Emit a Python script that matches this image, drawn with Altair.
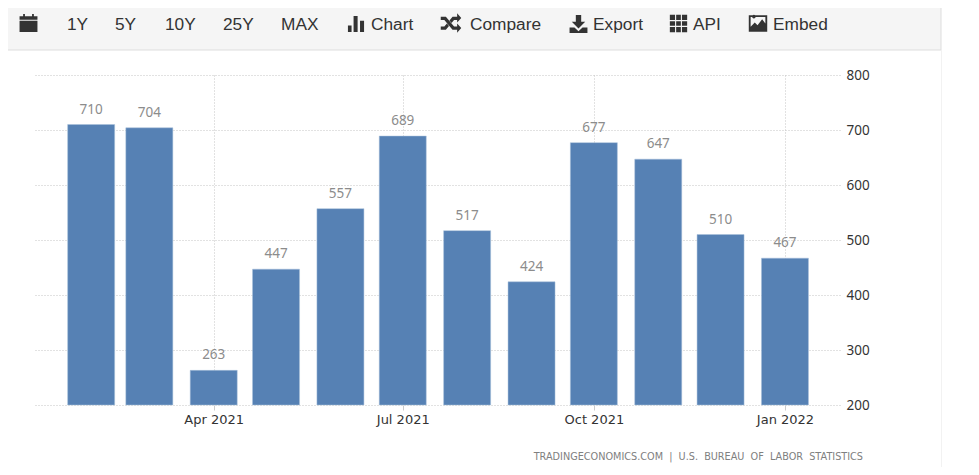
import altair as alt
import pandas as pd

months = ["2021-02-01", "2021-03-01", "2021-04-01", "2021-05-01", "2021-06-01", "2021-07-01",
          "2021-08-01", "2021-09-01", "2021-10-01", "2021-11-01", "2021-12-01", "2022-01-01"]
values = [710, 704, 263, 447, 557, 689, 517, 424, 677, 647, 510, 467]
y_ticks = [200, 300, 400, 500, 600, 700, 800]
source_note = "TRADINGECONOMICS.COM\u00a0 |\u00a0 U.S.\u00a0 BUREAU\u00a0 OF\u00a0 LABOR\u00a0 STATISTICS"

df = pd.DataFrame({"date": months, "value": values})

INK = "#333333"
X0, Y0 = 33, 75  # page position of the plot area's corner


def dt(y, m, d, h=0):
    return alt.DateTime(year=y, month=m, date=d, hours=h, utc=True)


x_enc = alt.X(
    "date:T",
    scale=alt.Scale(type="utc", nice=False, padding=0, domain=[dt(2021, 1, 4), dt(2022, 1, 27, 12)]),
    axis=alt.Axis(
        values=[dt(2021, 4, 1), dt(2021, 7, 1), dt(2021, 10, 1), dt(2022, 1, 1)],
        labelExpr="utcFormat(datum.value, '%b %Y')", title=None, domain=False,
        grid=True, gridColor="#c4c4c4", gridDash=[1, 2],
        tickColor="#cccccc", tickSize=5, labelColor=INK, labelFont="DejaVu Sans",
        labelFontSize=13, labelPadding=3, labelAngle=0,
    ),
)
y_enc = alt.Y(
    "value:Q",
    scale=alt.Scale(domain=[200, 800], nice=False, zero=False),
    axis=alt.Axis(
        values=y_ticks, orient="right", title=None, domain=False, ticks=False,
        grid=True, gridColor="#c4c4c4", gridDash=[1, 2],
        labelColor=INK, labelFont="Noto Sans", labelFontSize=13.5, labelPadding=6,
    ),
)

bars = alt.Chart(df).mark_bar(size=47, color="#5681b4", stroke="#a9c0da", strokeWidth=0.5).encode(
    x=x_enc, y=y_enc, y2=alt.datum(200))
labels = alt.Chart(df).mark_text(
    baseline="bottom", dy=-8, font="Noto Sans", fontSize=13.5, color="#8c8c8c"
).encode(x=x_enc, y=y_enc, text="value:Q")


def page_rect(x1, y1, x2, y2, **kw):
    return alt.Chart().mark_rect(**kw).encode(
        x=alt.value(x1 - X0), x2=alt.value(x2 - X0), y=alt.value(y1 - Y0), y2=alt.value(y2 - Y0))


def tool_text(label, x):
    return alt.Chart().mark_text(
        text=label, align="left", baseline="middle", font="Liberation Sans", fontSize=17.3, color=INK
    ).encode(x=alt.value(x - X0), y=alt.value(25 - Y0))


def icon(path, cx, cy, size):
    return alt.Chart().mark_point(
        shape=path, size=size, filled=True, fill=INK, opacity=1, strokeWidth=0
    ).encode(x=alt.value(cx - X0), y=alt.value(cy - Y0))


CALENDAR = ("M-1 -0.75 H-0.6 V-1 H-0.4 V-0.75 H0.4 V-1 H0.6 V-0.75 H1 V-0.35 H-1 Z "
            "M-1 -0.25 H1 V1 H-1 Z")
BARS = "M-1 0.2 H-0.55 V1 H-1 Z M-0.3 -1 H0.2 V1 H-0.3 Z M0.5 -0.4 H1 V1 H0.5 Z"
SHUFFLE = ("M-1 -0.6 H-0.5 L0.3 0.35 H0.6 V0.05 L1 0.5 L0.6 0.95 V0.65 H0.15 L-0.65 -0.3 H-1 Z "
           "M-1 0.35 H-0.65 L-0.4 0.05 L-0.2 0.3 L-0.5 0.65 H-1 Z "
           "M0.15 -0.6 H0.6 V-0.95 L1 -0.5 L0.6 -0.05 V-0.3 H0.3 L0.05 0 L-0.15 -0.25 Z")
DOWNLOAD = ("M-0.3 -1 H0.3 V-0.25 H0.75 L0 0.5 L-0.75 -0.25 H-0.3 Z "
            "M-1 0.4 H-0.45 L0 0.8 L0.45 0.4 H1 V1 H-1 Z")
GRID = ("M-1 -1 H-0.4 V-0.4 H-1 Z M-0.27 -1 H0.27 V-0.4 H-0.27 Z M0.4 -1 H1 V-0.4 H0.4 Z "
        "M-1 -0.27 H-0.4 V0.27 H-1 Z M-0.27 -0.27 H0.27 V0.27 H-0.27 Z M0.4 -0.27 H1 V0.27 H0.4 Z "
        "M-1 0.4 H-0.4 V1 H-1 Z M-0.27 0.4 H0.27 V1 H-0.27 Z M0.4 0.4 H1 V1 H0.4 Z")
IMAGE = ("M-1 -0.9 H1 V0.9 H-1 Z M-0.8 -0.7 V0.35 L-0.35 -0.1 L-0.05 0.2 L0.45 -0.45 L0.8 0 V-0.7 Z "
         "M-0.45 -0.55 A0.2 0.2 0 1 1 -0.44 -0.55 Z")

chart = alt.layer(
    page_rect(6, 0, 941, 50, color="#f5f5f5", stroke="#dddddd", strokeWidth=1),
    page_rect(941, 50, 942, 475, color="#f2f2f2"),
    tool_text("1Y", 67), tool_text("5Y", 115), tool_text("10Y", 165), tool_text("25Y", 223),
    tool_text("MAX", 281), tool_text("Chart", 371), tool_text("Compare", 470),
    tool_text("Export", 593), tool_text("API", 693), tool_text("Embed", 773),
    icon(CALENDAR, 28.5, 23, 320), icon(BARS, 356, 24, 260), icon(SHUFFLE, 451, 23, 420),
    icon(DOWNLOAD, 578.5, 24, 320), icon(GRID, 678.5, 23.5, 300), icon(IMAGE, 758, 23.5, 340),
    bars,
    labels,
    alt.Chart().mark_text(
        text=source_note, align="right", baseline="middle", font="DejaVu Sans", fontSize=9.7, color="#808080"
    ).encode(x=alt.value(863 - X0), y=alt.value(457 - Y0)),
).resolve_scale(x="shared", y="shared").properties(
    width=807, height=330,
    padding={"left": 25, "top": 67, "right": 131, "bottom": 62},
    autosize=alt.AutoSizeParams(type="none"),
    background="white",
).configure_view(stroke=None)

chart.save("out.html", embed_options={"renderer": "svg", "actions": False})
